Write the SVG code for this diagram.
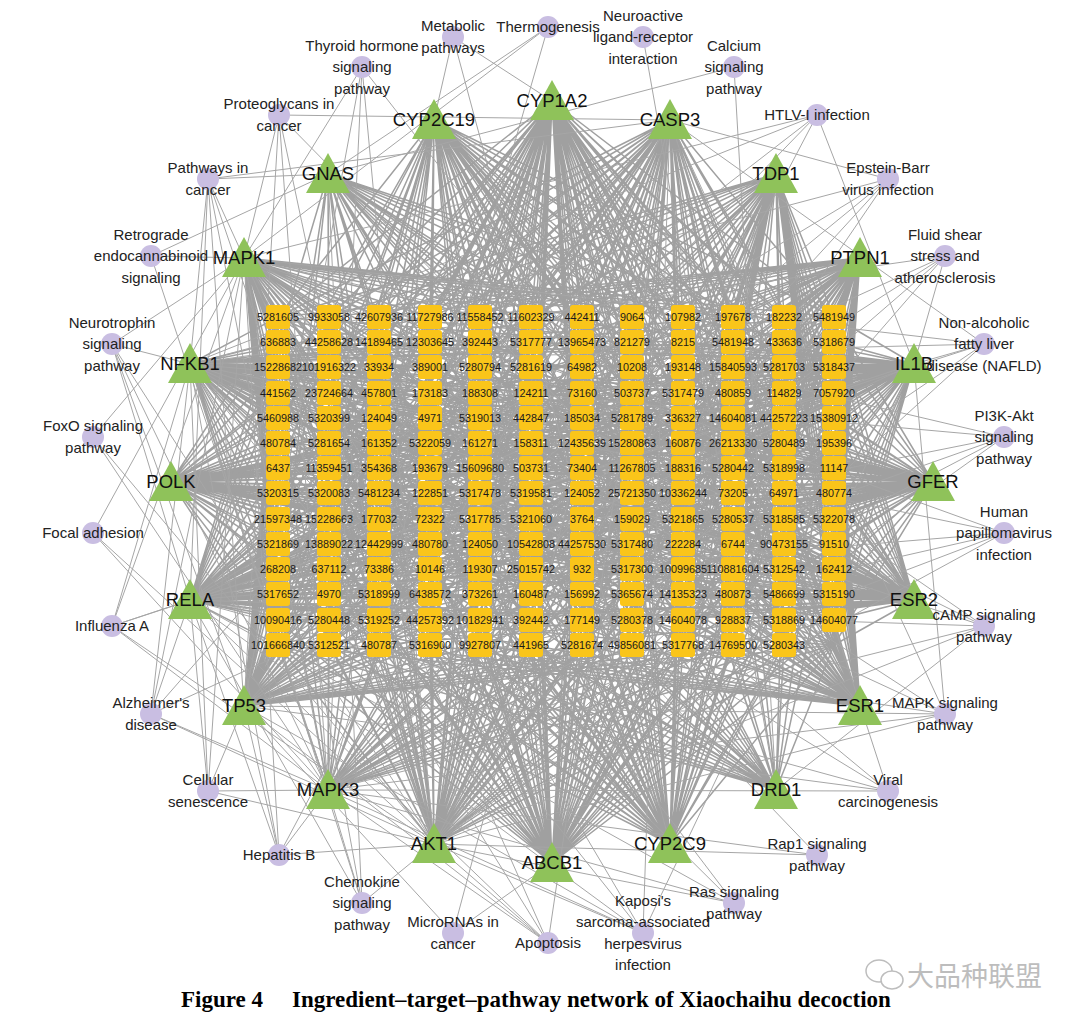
<svg xmlns="http://www.w3.org/2000/svg" xmlns:xlink="http://www.w3.org/1999/xlink" width="1080" height="1027" viewBox="0 0 1080 1027">
<defs>
<style>
.e{fill:none;stroke:#a0a0a0;stroke-width:1.5}
.pe{fill:none;stroke:#a6a6a6;stroke-width:1}
.cell{fill:#fac51a}
.cells text{font-family:"Liberation Sans",Arial,sans-serif;font-size:10.8px;text-anchor:middle;fill:#1a1a1a}
.tri{fill:#8fc25a}
.tg text{font-family:"Liberation Sans",Arial,sans-serif;font-size:18.5px;text-anchor:middle;fill:#111}
.pw circle{fill:#c9bee2}
.pw text{font-family:"Liberation Sans",Arial,sans-serif;font-size:15px;text-anchor:middle;fill:#222}
.cap{font-family:"Liberation Serif","Times New Roman",serif;font-size:23px;font-weight:bold;fill:#000}
.wm{font-family:"Noto Sans CJK SC",sans-serif;font-size:27px;fill:#bdbdbd}
</style>
<rect id="cell" class="cell" x="-12" y="-12" width="24" height="24" rx="3"/>
<path id="tri" class="tri" d="M0-21 22 19-22 19Z"/>
</defs>
<rect width="1080" height="1027" fill="#fff"/>
<g id="connectors">
<path id="e-CYP1A2" class="e" d="M552 101 278 317M552 101 329 317M552 101 379 317M552 101 430 317M552 101 480 317M552 101 531 317M552 101 582 317M552 101 632 317M552 101 683 317M552 101 733 317M552 101 784 317M552 101 834 317M552 101 278 418M552 101 329 418M552 101 379 418M552 101 430 418M552 101 480 418M552 101 531 418M552 101 582 418M552 101 632 418M552 101 683 418M552 101 733 418M552 101 784 418M552 101 834 418M552 101 278 544M552 101 329 544M552 101 379 544M552 101 430 544M552 101 480 544M552 101 531 544M552 101 582 544M552 101 632 544M552 101 683 544M552 101 733 544M552 101 784 544M552 101 834 544M552 101 278 645M552 101 329 645M552 101 379 645M552 101 430 645M552 101 480 645M552 101 531 645M552 101 582 645M552 101 632 645M552 101 683 645M552 101 733 645M552 101 784 645M552 101 834 645M552 101 278 367M552 101 329 367M552 101 379 367M552 101 430 367M552 101 480 367M552 101 531 367M552 101 582 367M552 101 632 367M552 101 683 367M552 101 733 367M552 101 784 367M552 101 834 367M552 101 278 493M552 101 329 493M552 101 379 493M552 101 430 493M552 101 480 493M552 101 531 493M552 101 582 493M552 101 632 493M552 101 683 493M552 101 733 493M552 101 784 493M552 101 834 493M552 101 278 594M552 101 329 594M552 101 379 594M552 101 430 594M552 101 480 594M552 101 531 594M552 101 582 594M552 101 632 594M552 101 683 594M552 101 733 594M552 101 784 594M552 101 834 594"/>
<path id="e-CYP2C19" class="e" d="M434 120 278 317M434 120 329 317M434 120 379 317M434 120 430 317M434 120 480 317M434 120 531 317M434 120 582 317M434 120 632 317M434 120 683 317M434 120 733 317M434 120 784 317M434 120 834 317M434 120 278 468M434 120 329 468M434 120 379 468M434 120 430 468M434 120 480 468M434 120 531 468M434 120 582 468M434 120 632 468M434 120 683 468M434 120 733 468M434 120 784 468M434 120 834 468M434 120 278 645M434 120 329 645M434 120 379 645M434 120 430 645M434 120 480 645M434 120 531 645M434 120 582 645M434 120 632 645M434 120 683 645M434 120 733 645M434 120 784 645M434 120 834 645M434 120 278 393M434 120 329 393M434 120 379 393M434 120 430 393M434 120 480 393M434 120 531 393M434 120 582 393M434 120 632 393M434 120 683 393M434 120 733 393M434 120 784 393M434 120 834 393M434 120 278 544M434 120 329 544M434 120 379 544M434 120 430 544M434 120 480 544M434 120 531 544M434 120 582 544M434 120 632 544M434 120 683 544M434 120 733 544M434 120 784 544M434 120 834 544"/>
<path id="e-CASP3" class="e" d="M670 120 278 317M670 120 329 317M670 120 379 317M670 120 430 317M670 120 480 317M670 120 531 317M670 120 582 317M670 120 632 317M670 120 683 317M670 120 733 317M670 120 784 317M670 120 834 317M670 120 278 493M670 120 329 493M670 120 379 493M670 120 430 493M670 120 480 493M670 120 531 493M670 120 582 493M670 120 632 493M670 120 683 493M670 120 733 493M670 120 784 493M670 120 834 493M670 120 278 645M670 120 329 645M670 120 379 645M670 120 430 645M670 120 480 645M670 120 531 645M670 120 582 645M670 120 632 645M670 120 683 645M670 120 733 645M670 120 784 645M670 120 834 645M670 120 278 393M670 120 329 393M670 120 379 393M670 120 430 393M670 120 480 393M670 120 531 393M670 120 582 393M670 120 632 393M670 120 683 393M670 120 733 393M670 120 784 393M670 120 834 393M670 120 278 569M670 120 329 569M670 120 379 569M670 120 430 569M670 120 480 569M670 120 531 569M670 120 582 569M670 120 632 569M670 120 683 569M670 120 733 569M670 120 784 569M670 120 834 569"/>
<path id="e-TDP1" class="e" d="M776 174 278 317M776 174 329 317M776 174 379 317M776 174 430 317M776 174 480 317M776 174 531 317M776 174 582 317M776 174 632 317M776 174 683 317M776 174 733 317M776 174 784 317M776 174 834 317M776 174 278 645M776 174 329 645M776 174 379 645M776 174 430 645M776 174 480 645M776 174 531 645M776 174 582 645M776 174 632 645M776 174 683 645M776 174 733 645M776 174 784 645M776 174 834 645M776 174 834 342M776 174 834 367M776 174 834 393M776 174 834 418M776 174 834 443M776 174 834 468M776 174 834 493M776 174 834 519M776 174 834 544M776 174 834 569M776 174 834 594M776 174 834 620M776 174 278 468M776 174 329 468M776 174 379 468M776 174 430 468M776 174 480 468M776 174 531 468M776 174 582 468M776 174 632 468M776 174 683 468M776 174 733 468M776 174 784 468M776 174 683 342M776 174 683 367M776 174 683 393M776 174 683 418M776 174 683 443M776 174 683 493M776 174 683 519M776 174 683 544M776 174 683 569M776 174 683 594M776 174 683 620"/>
<path id="e-GNAS" class="e" d="M328 174 278 342M328 174 329 342M328 174 379 342M328 174 430 342M328 174 480 342M328 174 531 342M328 174 582 342M328 174 632 342M328 174 683 342M328 174 733 342M328 174 784 342M328 174 834 342M328 174 278 620M328 174 379 620M328 174 480 620M328 174 582 620M328 174 683 620M328 174 784 620M328 174 278 493M328 174 329 493M328 174 379 493M328 174 430 493M328 174 480 493M328 174 531 493M328 174 582 493M328 174 632 493M328 174 683 493M328 174 733 493M328 174 784 493M328 174 834 493"/>
<path id="e-MAPK1" class="e" d="M244 258 278 317M244 258 278 342M244 258 278 367M244 258 278 393M244 258 278 418M244 258 278 443M244 258 278 468M244 258 278 493M244 258 278 519M244 258 278 544M244 258 278 569M244 258 278 594M244 258 278 620M244 258 278 645M244 258 329 317M244 258 379 317M244 258 430 317M244 258 480 317M244 258 531 317M244 258 582 317M244 258 632 317M244 258 683 317M244 258 733 317M244 258 784 317M244 258 834 317M244 258 329 645M244 258 379 645M244 258 430 645M244 258 480 645M244 258 531 645M244 258 582 645M244 258 632 645M244 258 683 645M244 258 733 645M244 258 784 645M244 258 834 645M244 258 329 468M244 258 430 468M244 258 480 468M244 258 531 468M244 258 582 468M244 258 632 468M244 258 683 468M244 258 733 468M244 258 784 468M244 258 834 468M244 258 379 342M244 258 379 367M244 258 379 393M244 258 379 418M244 258 379 443M244 258 379 468M244 258 379 493M244 258 379 519M244 258 379 544M244 258 379 569M244 258 379 594M244 258 379 620"/>
<path id="e-PTPN1" class="e" d="M860 258 834 317M860 258 834 342M860 258 834 367M860 258 834 393M860 258 834 418M860 258 834 443M860 258 834 468M860 258 834 493M860 258 834 519M860 258 834 544M860 258 834 569M860 258 834 594M860 258 834 620M860 258 834 645M860 258 278 317M860 258 329 317M860 258 379 317M860 258 430 317M860 258 480 317M860 258 531 317M860 258 582 317M860 258 632 317M860 258 683 317M860 258 733 317M860 258 784 317M860 258 278 645M860 258 329 645M860 258 379 645M860 258 430 645M860 258 480 645M860 258 531 645M860 258 582 645M860 258 632 645M860 258 683 645M860 258 733 645M860 258 784 645M860 258 278 468M860 258 329 468M860 258 379 468M860 258 430 468M860 258 480 468M860 258 531 468M860 258 582 468M860 258 632 468M860 258 683 468M860 258 784 468M860 258 733 342M860 258 733 367M860 258 733 393M860 258 733 418M860 258 733 443M860 258 733 468M860 258 733 493M860 258 733 519M860 258 733 544M860 258 733 569M860 258 733 594M860 258 733 620"/>
<path id="e-NFKB1" class="e" d="M190 364 278 317M190 364 278 342M190 364 278 367M190 364 278 393M190 364 278 418M190 364 278 443M190 364 278 468M190 364 278 493M190 364 278 519M190 364 278 544M190 364 278 569M190 364 278 594M190 364 278 620M190 364 278 645M190 364 582 317M190 364 582 342M190 364 582 367M190 364 582 393M190 364 582 418M190 364 582 443M190 364 582 468M190 364 582 493M190 364 582 519M190 364 582 544M190 364 582 569M190 364 582 594M190 364 582 620M190 364 582 645M190 364 834 317M190 364 834 342M190 364 834 367M190 364 834 393M190 364 834 418M190 364 834 443M190 364 834 468M190 364 834 493M190 364 834 519M190 364 834 544M190 364 834 569M190 364 834 594M190 364 834 620M190 364 834 645M190 364 430 317M190 364 430 342M190 364 430 367M190 364 430 393M190 364 430 418M190 364 430 443M190 364 430 468M190 364 430 493M190 364 430 519M190 364 430 544M190 364 430 569M190 364 430 594M190 364 430 620M190 364 430 645M190 364 733 317M190 364 733 342M190 364 733 367M190 364 733 393M190 364 733 418M190 364 733 443M190 364 733 468M190 364 733 493M190 364 733 519M190 364 733 544M190 364 733 569M190 364 733 594M190 364 733 620M190 364 733 645"/>
<path id="e-IL1B" class="e" d="M914 364 278 317M914 364 278 342M914 364 278 367M914 364 278 393M914 364 278 418M914 364 278 443M914 364 278 468M914 364 278 493M914 364 278 519M914 364 278 544M914 364 278 569M914 364 278 594M914 364 278 620M914 364 278 645M914 364 531 317M914 364 531 342M914 364 531 367M914 364 531 393M914 364 531 418M914 364 531 443M914 364 531 468M914 364 531 493M914 364 531 519M914 364 531 544M914 364 531 569M914 364 531 594M914 364 531 620M914 364 531 645M914 364 834 317M914 364 834 342M914 364 834 367M914 364 834 393M914 364 834 418M914 364 834 443M914 364 834 468M914 364 834 493M914 364 834 519M914 364 834 544M914 364 834 569M914 364 834 594M914 364 834 620M914 364 834 645M914 364 379 317M914 364 379 342M914 364 379 367M914 364 379 393M914 364 379 418M914 364 379 443M914 364 379 468M914 364 379 493M914 364 379 519M914 364 379 544M914 364 379 569M914 364 379 594M914 364 379 620M914 364 379 645M914 364 683 317M914 364 683 342M914 364 683 367M914 364 683 393M914 364 683 418M914 364 683 443M914 364 683 468M914 364 683 493M914 364 683 519M914 364 683 544M914 364 683 569M914 364 683 594M914 364 683 620M914 364 683 645"/>
<path id="e-POLK" class="e" d="M171 482 278 317M171 482 278 342M171 482 278 367M171 482 278 393M171 482 278 418M171 482 278 443M171 482 278 468M171 482 278 493M171 482 278 519M171 482 278 544M171 482 278 569M171 482 278 594M171 482 278 620M171 482 278 645M171 482 632 317M171 482 632 342M171 482 632 367M171 482 632 393M171 482 632 418M171 482 632 443M171 482 632 468M171 482 632 493M171 482 632 519M171 482 632 544M171 482 632 569M171 482 632 594M171 482 632 620M171 482 632 645M171 482 834 317M171 482 834 342M171 482 834 367M171 482 834 393M171 482 834 418M171 482 834 443M171 482 834 468M171 482 834 493M171 482 834 519M171 482 834 544M171 482 834 569M171 482 834 594M171 482 834 620M171 482 834 645M171 482 379 317M171 482 379 342M171 482 379 367M171 482 379 393M171 482 379 418M171 482 379 443M171 482 379 468M171 482 379 493M171 482 379 519M171 482 379 544M171 482 379 569M171 482 379 594M171 482 379 620M171 482 379 645M171 482 733 317M171 482 733 342M171 482 733 367M171 482 733 393M171 482 733 418M171 482 733 443M171 482 733 468M171 482 733 493M171 482 733 519M171 482 733 544M171 482 733 569M171 482 733 594M171 482 733 620M171 482 733 645"/>
<path id="e-GFER" class="e" d="M933 482 278 317M933 482 278 342M933 482 278 367M933 482 278 393M933 482 278 418M933 482 278 443M933 482 278 468M933 482 278 493M933 482 278 519M933 482 278 544M933 482 278 569M933 482 278 594M933 482 278 620M933 482 278 645M933 482 480 317M933 482 480 342M933 482 480 367M933 482 480 393M933 482 480 418M933 482 480 443M933 482 480 468M933 482 480 493M933 482 480 519M933 482 480 544M933 482 480 569M933 482 480 594M933 482 480 620M933 482 480 645M933 482 834 317M933 482 834 342M933 482 834 367M933 482 834 393M933 482 834 418M933 482 834 443M933 482 834 468M933 482 834 493M933 482 834 519M933 482 834 544M933 482 834 569M933 482 834 594M933 482 834 620M933 482 834 645M933 482 329 317M933 482 329 342M933 482 329 367M933 482 329 393M933 482 329 418M933 482 329 443M933 482 329 468M933 482 329 493M933 482 329 519M933 482 329 544M933 482 329 569M933 482 329 594M933 482 329 620M933 482 329 645M933 482 683 317M933 482 683 342M933 482 683 367M933 482 683 393M933 482 683 418M933 482 683 443M933 482 683 468M933 482 683 493M933 482 683 519M933 482 683 544M933 482 683 569M933 482 683 594M933 482 683 620M933 482 683 645"/>
<path id="e-RELA" class="e" d="M190 600 278 317M190 600 278 342M190 600 278 367M190 600 278 393M190 600 278 418M190 600 278 443M190 600 278 468M190 600 278 493M190 600 278 519M190 600 278 544M190 600 278 569M190 600 278 594M190 600 278 620M190 600 278 645M190 600 531 317M190 600 531 342M190 600 531 367M190 600 531 393M190 600 531 418M190 600 531 443M190 600 531 468M190 600 531 493M190 600 531 519M190 600 531 544M190 600 531 569M190 600 531 594M190 600 531 620M190 600 531 645M190 600 834 317M190 600 834 342M190 600 834 367M190 600 834 393M190 600 834 418M190 600 834 443M190 600 834 468M190 600 834 493M190 600 834 519M190 600 834 544M190 600 834 569M190 600 834 594M190 600 834 620M190 600 834 645M190 600 430 317M190 600 430 342M190 600 430 367M190 600 430 393M190 600 430 418M190 600 430 443M190 600 430 468M190 600 430 493M190 600 430 519M190 600 430 544M190 600 430 569M190 600 430 594M190 600 430 620M190 600 430 645M190 600 683 317M190 600 683 342M190 600 683 367M190 600 683 393M190 600 683 418M190 600 683 443M190 600 683 468M190 600 683 493M190 600 683 519M190 600 683 544M190 600 683 569M190 600 683 594M190 600 683 620M190 600 683 645"/>
<path id="e-ESR2" class="e" d="M914 600 278 317M914 600 278 342M914 600 278 367M914 600 278 393M914 600 278 418M914 600 278 443M914 600 278 468M914 600 278 493M914 600 278 519M914 600 278 544M914 600 278 569M914 600 278 594M914 600 278 620M914 600 278 645M914 600 582 317M914 600 582 342M914 600 582 367M914 600 582 393M914 600 582 418M914 600 582 443M914 600 582 468M914 600 582 493M914 600 582 519M914 600 582 544M914 600 582 569M914 600 582 594M914 600 582 620M914 600 582 645M914 600 834 317M914 600 834 342M914 600 834 367M914 600 834 393M914 600 834 418M914 600 834 443M914 600 834 468M914 600 834 493M914 600 834 519M914 600 834 544M914 600 834 569M914 600 834 594M914 600 834 620M914 600 834 645M914 600 379 317M914 600 379 342M914 600 379 367M914 600 379 393M914 600 379 418M914 600 379 443M914 600 379 468M914 600 379 493M914 600 379 519M914 600 379 544M914 600 379 569M914 600 379 594M914 600 379 620M914 600 379 645M914 600 733 317M914 600 733 342M914 600 733 367M914 600 733 393M914 600 733 418M914 600 733 443M914 600 733 468M914 600 733 493M914 600 733 519M914 600 733 544M914 600 733 569M914 600 733 594M914 600 733 620M914 600 733 645"/>
<path id="e-TP53" class="e" d="M244 706 278 317M244 706 278 342M244 706 278 367M244 706 278 393M244 706 278 418M244 706 278 443M244 706 278 468M244 706 278 493M244 706 278 519M244 706 278 544M244 706 278 569M244 706 278 594M244 706 278 620M244 706 278 645M244 706 329 645M244 706 379 645M244 706 430 645M244 706 480 645M244 706 531 645M244 706 582 645M244 706 632 645M244 706 683 645M244 706 733 645M244 706 784 645M244 706 834 645M244 706 329 317M244 706 379 317M244 706 430 317M244 706 480 317M244 706 531 317M244 706 582 317M244 706 632 317M244 706 683 317M244 706 733 317M244 706 784 317M244 706 834 317M244 706 329 493M244 706 430 493M244 706 480 493M244 706 531 493M244 706 582 493M244 706 632 493M244 706 683 493M244 706 733 493M244 706 784 493M244 706 834 493M244 706 379 342M244 706 379 367M244 706 379 393M244 706 379 418M244 706 379 443M244 706 379 468M244 706 379 493M244 706 379 519M244 706 379 544M244 706 379 569M244 706 379 594M244 706 379 620"/>
<path id="e-ESR1" class="e" d="M860 706 834 317M860 706 834 342M860 706 834 367M860 706 834 393M860 706 834 418M860 706 834 443M860 706 834 468M860 706 834 493M860 706 834 519M860 706 834 544M860 706 834 569M860 706 834 594M860 706 834 620M860 706 834 645M860 706 278 645M860 706 329 645M860 706 379 645M860 706 430 645M860 706 480 645M860 706 531 645M860 706 582 645M860 706 632 645M860 706 683 645M860 706 733 645M860 706 784 645M860 706 278 317M860 706 329 317M860 706 379 317M860 706 430 317M860 706 480 317M860 706 531 317M860 706 582 317M860 706 632 317M860 706 683 317M860 706 733 317M860 706 784 317M860 706 278 493M860 706 329 493M860 706 379 493M860 706 430 493M860 706 480 493M860 706 531 493M860 706 582 493M860 706 632 493M860 706 683 493M860 706 784 493M860 706 733 342M860 706 733 367M860 706 733 393M860 706 733 418M860 706 733 443M860 706 733 468M860 706 733 493M860 706 733 519M860 706 733 544M860 706 733 569M860 706 733 594M860 706 733 620"/>
<path id="e-MAPK3" class="e" d="M328 790 278 645M328 790 329 645M328 790 379 645M328 790 430 645M328 790 480 645M328 790 531 645M328 790 582 645M328 790 632 645M328 790 683 645M328 790 733 645M328 790 784 645M328 790 834 645M328 790 278 367M328 790 379 367M328 790 480 367M328 790 582 367M328 790 683 367M328 790 784 367M328 790 278 519M328 790 329 519M328 790 379 519M328 790 430 519M328 790 480 519M328 790 531 519M328 790 582 519M328 790 632 519M328 790 683 519M328 790 733 519M328 790 784 519M328 790 834 519"/>
<path id="e-DRD1" class="e" d="M776 790 278 645M776 790 329 645M776 790 379 645M776 790 430 645M776 790 480 645M776 790 531 645M776 790 582 645M776 790 632 645M776 790 683 645M776 790 733 645M776 790 784 645M776 790 834 645M776 790 329 367M776 790 430 367M776 790 531 367M776 790 632 367M776 790 733 367M776 790 834 367M776 790 278 519M776 790 329 519M776 790 379 519M776 790 430 519M776 790 480 519M776 790 531 519M776 790 582 519M776 790 632 519M776 790 683 519M776 790 733 519M776 790 784 519M776 790 834 519"/>
<path id="e-AKT1" class="e" d="M434 844 278 645M434 844 329 645M434 844 379 645M434 844 430 645M434 844 480 645M434 844 531 645M434 844 582 645M434 844 632 645M434 844 683 645M434 844 733 645M434 844 784 645M434 844 834 645M434 844 278 443M434 844 329 443M434 844 379 443M434 844 430 443M434 844 480 443M434 844 531 443M434 844 582 443M434 844 632 443M434 844 683 443M434 844 733 443M434 844 784 443M434 844 834 443M434 844 278 317M434 844 329 317M434 844 379 317M434 844 430 317M434 844 480 317M434 844 531 317M434 844 582 317M434 844 632 317M434 844 683 317M434 844 733 317M434 844 784 317M434 844 834 317M434 844 278 544M434 844 329 544M434 844 379 544M434 844 430 544M434 844 480 544M434 844 531 544M434 844 582 544M434 844 632 544M434 844 683 544M434 844 733 544M434 844 784 544M434 844 834 544M434 844 278 367M434 844 329 367M434 844 379 367M434 844 430 367M434 844 480 367M434 844 531 367M434 844 582 367M434 844 632 367M434 844 683 367M434 844 733 367M434 844 784 367M434 844 834 367"/>
<path id="e-ABCB1" class="e" d="M552 863 278 645M552 863 329 645M552 863 379 645M552 863 430 645M552 863 480 645M552 863 531 645M552 863 582 645M552 863 632 645M552 863 683 645M552 863 733 645M552 863 784 645M552 863 834 645M552 863 278 544M552 863 329 544M552 863 379 544M552 863 430 544M552 863 480 544M552 863 531 544M552 863 582 544M552 863 632 544M552 863 683 544M552 863 733 544M552 863 784 544M552 863 834 544M552 863 278 418M552 863 329 418M552 863 379 418M552 863 430 418M552 863 480 418M552 863 531 418M552 863 582 418M552 863 632 418M552 863 683 418M552 863 733 418M552 863 784 418M552 863 834 418M552 863 278 317M552 863 329 317M552 863 379 317M552 863 430 317M552 863 480 317M552 863 531 317M552 863 582 317M552 863 632 317M552 863 683 317M552 863 733 317M552 863 784 317M552 863 834 317M552 863 278 620M552 863 329 620M552 863 379 620M552 863 430 620M552 863 480 620M552 863 531 620M552 863 582 620M552 863 632 620M552 863 683 620M552 863 733 620M552 863 784 620M552 863 834 620M552 863 278 468M552 863 329 468M552 863 379 468M552 863 430 468M552 863 480 468M552 863 531 468M552 863 582 468M552 863 632 468M552 863 683 468M552 863 733 468M552 863 784 468M552 863 834 468"/>
<path id="e-CYP2C9" class="e" d="M670 844 278 645M670 844 329 645M670 844 379 645M670 844 430 645M670 844 480 645M670 844 531 645M670 844 582 645M670 844 632 645M670 844 683 645M670 844 733 645M670 844 784 645M670 844 834 645M670 844 278 468M670 844 329 468M670 844 379 468M670 844 430 468M670 844 480 468M670 844 531 468M670 844 582 468M670 844 632 468M670 844 683 468M670 844 733 468M670 844 784 468M670 844 834 468M670 844 278 317M670 844 329 317M670 844 379 317M670 844 430 317M670 844 480 317M670 844 531 317M670 844 582 317M670 844 632 317M670 844 683 317M670 844 733 317M670 844 784 317M670 844 834 317M670 844 278 569M670 844 329 569M670 844 379 569M670 844 430 569M670 844 480 569M670 844 531 569M670 844 582 569M670 844 632 569M670 844 683 569M670 844 733 569M670 844 784 569M670 844 834 569M670 844 278 393M670 844 329 393M670 844 379 393M670 844 430 393M670 844 480 393M670 844 531 393M670 844 582 393M670 844 632 393M670 844 683 393M670 844 733 393M670 844 784 393M670 844 834 393"/>
<path class="pe" d="M548 27 328 174M548 27 244 258M548 27 328 790"/>
<path class="pe" d="M643 37 776 790"/>
<path class="pe" d="M734 67 328 174M734 67 776 790"/>
<path class="pe" d="M817 115 434 844M817 115 190 364M817 115 190 600M817 115 244 706M817 115 914 364M817 115 244 258"/>
<path class="pe" d="M888 179 190 364M888 179 190 600M888 179 244 706M888 179 434 844M888 179 670 120M888 179 328 790"/>
<path class="pe" d="M945 256 190 364M945 256 190 600M945 256 434 844M945 256 914 364M945 256 244 706M945 256 328 790"/>
<path class="pe" d="M984 344 670 120M984 344 914 364M984 344 190 364M984 344 190 600M984 344 434 844M984 344 244 258M984 344 328 790"/>
<path class="pe" d="M1004 437 434 844M1004 437 190 600M1004 437 190 364M1004 437 244 706M1004 437 244 258M1004 437 328 790"/>
<path class="pe" d="M1004 533 434 844M1004 533 190 600M1004 533 190 364M1004 533 244 706M1004 533 244 258M1004 533 328 790"/>
<path class="pe" d="M984 626 328 174M984 626 776 790M984 626 434 844M984 626 190 600M984 626 190 364M984 626 244 258M984 626 328 790"/>
<path class="pe" d="M945 714 914 364M945 714 670 120M945 714 190 600M945 714 190 364M945 714 244 706M945 714 244 258M945 714 328 790M945 714 434 844"/>
<path class="pe" d="M888 791 670 120M888 791 244 706M888 791 190 600M888 791 190 364M888 791 244 258M888 791 328 790"/>
<path class="pe" d="M817 855 434 844M817 855 244 258M817 855 328 790"/>
<path class="pe" d="M734 903 434 844M734 903 244 258M734 903 328 790M734 903 190 600M734 903 190 364"/>
<path class="pe" d="M643 933 670 120M643 933 914 364M643 933 244 258M643 933 328 790M643 933 190 364M643 933 190 600M643 933 244 706M643 933 434 844"/>
<path class="pe" d="M548 943 670 120M548 943 434 844M548 943 244 706M548 943 190 364M548 943 190 600M548 943 244 258M548 943 328 790"/>
<path class="pe" d="M453 933 244 706M453 933 552 863M453 933 670 120"/>
<path class="pe" d="M362 903 434 844M362 903 190 364M362 903 190 600M362 903 244 258M362 903 328 790M362 903 328 174"/>
<path class="pe" d="M279 855 670 120M279 855 434 844M279 855 190 364M279 855 190 600M279 855 244 706M279 855 244 258M279 855 328 790"/>
<path class="pe" d="M208 791 244 706M208 791 434 844M208 791 190 600M208 791 190 364M208 791 244 258M208 791 328 790"/>
<path class="pe" d="M151 714 670 120M151 714 914 364M151 714 190 364M151 714 190 600M151 714 244 258M151 714 328 790M151 714 434 844"/>
<path class="pe" d="M112 626 190 364M112 626 190 600M112 626 914 364M112 626 434 844M112 626 244 258M112 626 328 790"/>
<path class="pe" d="M93 533 434 844M93 533 244 258M93 533 328 790"/>
<path class="pe" d="M93 437 434 844M93 437 244 258M93 437 328 790"/>
<path class="pe" d="M112 344 434 844M112 344 244 706M112 344 190 364M112 344 190 600M112 344 244 258M112 344 328 790"/>
<path class="pe" d="M151 256 328 174M151 256 244 258M151 256 328 790"/>
<path class="pe" d="M208 179 328 174M208 179 434 844M208 179 190 364M208 179 190 600M208 179 244 706M208 179 244 258M208 179 328 790M208 179 670 120"/>
<path class="pe" d="M279 115 434 844M279 115 860 706M279 115 244 258M279 115 328 790M279 115 670 120M279 115 244 706"/>
<path class="pe" d="M362 67 434 844M362 67 860 706M362 67 244 258M362 67 328 790M362 67 244 706"/>
<path class="pe" d="M453 37 552 101M453 37 434 120M453 37 670 844"/>
</g>
<g id="compounds" class="cells">
<g id="c5281605"><use xlink:href="#cell" x="278" y="317"/><text x="278" y="321">5281605</text></g>
<g id="c9933058"><use xlink:href="#cell" x="329" y="317"/><text x="329" y="321">9933058</text></g>
<g id="c42607936"><use xlink:href="#cell" x="379" y="317"/><text x="379" y="321">42607936</text></g>
<g id="c11727986"><use xlink:href="#cell" x="430" y="317"/><text x="430" y="321">11727986</text></g>
<g id="c11558452"><use xlink:href="#cell" x="480" y="317"/><text x="480" y="321">11558452</text></g>
<g id="c11602329"><use xlink:href="#cell" x="531" y="317"/><text x="531" y="321">11602329</text></g>
<g id="c442411"><use xlink:href="#cell" x="582" y="317"/><text x="582" y="321">442411</text></g>
<g id="c9064"><use xlink:href="#cell" x="632" y="317"/><text x="632" y="321">9064</text></g>
<g id="c107982"><use xlink:href="#cell" x="683" y="317"/><text x="683" y="321">107982</text></g>
<g id="c197678"><use xlink:href="#cell" x="733" y="317"/><text x="733" y="321">197678</text></g>
<g id="c182232"><use xlink:href="#cell" x="784" y="317"/><text x="784" y="321">182232</text></g>
<g id="c5481949"><use xlink:href="#cell" x="834" y="317"/><text x="834" y="321">5481949</text></g>
<g id="c636883"><use xlink:href="#cell" x="278" y="342"/><text x="278" y="346">636883</text></g>
<g id="c44258628"><use xlink:href="#cell" x="329" y="342"/><text x="329" y="346">44258628</text></g>
<g id="c14189465"><use xlink:href="#cell" x="379" y="342"/><text x="379" y="346">14189465</text></g>
<g id="c12303645"><use xlink:href="#cell" x="430" y="342"/><text x="430" y="346">12303645</text></g>
<g id="c392443"><use xlink:href="#cell" x="480" y="342"/><text x="480" y="346">392443</text></g>
<g id="c5317777"><use xlink:href="#cell" x="531" y="342"/><text x="531" y="346">5317777</text></g>
<g id="c13965473"><use xlink:href="#cell" x="582" y="342"/><text x="582" y="346">13965473</text></g>
<g id="c821279"><use xlink:href="#cell" x="632" y="342"/><text x="632" y="346">821279</text></g>
<g id="c8215"><use xlink:href="#cell" x="683" y="342"/><text x="683" y="346">8215</text></g>
<g id="c5481948"><use xlink:href="#cell" x="733" y="342"/><text x="733" y="346">5481948</text></g>
<g id="c433636"><use xlink:href="#cell" x="784" y="342"/><text x="784" y="346">433636</text></g>
<g id="c5318679"><use xlink:href="#cell" x="834" y="342"/><text x="834" y="346">5318679</text></g>
<g id="c15228682"><use xlink:href="#cell" x="278" y="367"/><text x="278" y="371">15228682</text></g>
<g id="c101916322"><use xlink:href="#cell" x="329" y="367"/><text x="329" y="371">101916322</text></g>
<g id="c33934"><use xlink:href="#cell" x="379" y="367"/><text x="379" y="371">33934</text></g>
<g id="c389001"><use xlink:href="#cell" x="430" y="367"/><text x="430" y="371">389001</text></g>
<g id="c5280794"><use xlink:href="#cell" x="480" y="367"/><text x="480" y="371">5280794</text></g>
<g id="c5281619"><use xlink:href="#cell" x="531" y="367"/><text x="531" y="371">5281619</text></g>
<g id="c64982"><use xlink:href="#cell" x="582" y="367"/><text x="582" y="371">64982</text></g>
<g id="c10208"><use xlink:href="#cell" x="632" y="367"/><text x="632" y="371">10208</text></g>
<g id="c193148"><use xlink:href="#cell" x="683" y="367"/><text x="683" y="371">193148</text></g>
<g id="c15840593"><use xlink:href="#cell" x="733" y="367"/><text x="733" y="371">15840593</text></g>
<g id="c5281703"><use xlink:href="#cell" x="784" y="367"/><text x="784" y="371">5281703</text></g>
<g id="c5318437"><use xlink:href="#cell" x="834" y="367"/><text x="834" y="371">5318437</text></g>
<g id="c441562"><use xlink:href="#cell" x="278" y="393"/><text x="278" y="397">441562</text></g>
<g id="c23724664"><use xlink:href="#cell" x="329" y="393"/><text x="329" y="397">23724664</text></g>
<g id="c457801"><use xlink:href="#cell" x="379" y="393"/><text x="379" y="397">457801</text></g>
<g id="c173183"><use xlink:href="#cell" x="430" y="393"/><text x="430" y="397">173183</text></g>
<g id="c188308"><use xlink:href="#cell" x="480" y="393"/><text x="480" y="397">188308</text></g>
<g id="c124211"><use xlink:href="#cell" x="531" y="393"/><text x="531" y="397">124211</text></g>
<g id="c73160"><use xlink:href="#cell" x="582" y="393"/><text x="582" y="397">73160</text></g>
<g id="c503737"><use xlink:href="#cell" x="632" y="393"/><text x="632" y="397">503737</text></g>
<g id="c5317479"><use xlink:href="#cell" x="683" y="393"/><text x="683" y="397">5317479</text></g>
<g id="c480859"><use xlink:href="#cell" x="733" y="393"/><text x="733" y="397">480859</text></g>
<g id="c114829"><use xlink:href="#cell" x="784" y="393"/><text x="784" y="397">114829</text></g>
<g id="c7057920"><use xlink:href="#cell" x="834" y="393"/><text x="834" y="397">7057920</text></g>
<g id="c5460988"><use xlink:href="#cell" x="278" y="418"/><text x="278" y="422">5460988</text></g>
<g id="c5320399"><use xlink:href="#cell" x="329" y="418"/><text x="329" y="422">5320399</text></g>
<g id="c124049"><use xlink:href="#cell" x="379" y="418"/><text x="379" y="422">124049</text></g>
<g id="c4971"><use xlink:href="#cell" x="430" y="418"/><text x="430" y="422">4971</text></g>
<g id="c5319013"><use xlink:href="#cell" x="480" y="418"/><text x="480" y="422">5319013</text></g>
<g id="c442847"><use xlink:href="#cell" x="531" y="418"/><text x="531" y="422">442847</text></g>
<g id="c185034"><use xlink:href="#cell" x="582" y="418"/><text x="582" y="422">185034</text></g>
<g id="c5281789"><use xlink:href="#cell" x="632" y="418"/><text x="632" y="422">5281789</text></g>
<g id="c336327"><use xlink:href="#cell" x="683" y="418"/><text x="683" y="422">336327</text></g>
<g id="c14604081"><use xlink:href="#cell" x="733" y="418"/><text x="733" y="422">14604081</text></g>
<g id="c44257223"><use xlink:href="#cell" x="784" y="418"/><text x="784" y="422">44257223</text></g>
<g id="c15380912"><use xlink:href="#cell" x="834" y="418"/><text x="834" y="422">15380912</text></g>
<g id="c480784"><use xlink:href="#cell" x="278" y="443"/><text x="278" y="447">480784</text></g>
<g id="c5281654"><use xlink:href="#cell" x="329" y="443"/><text x="329" y="447">5281654</text></g>
<g id="c161352"><use xlink:href="#cell" x="379" y="443"/><text x="379" y="447">161352</text></g>
<g id="c5322059"><use xlink:href="#cell" x="430" y="443"/><text x="430" y="447">5322059</text></g>
<g id="c161271"><use xlink:href="#cell" x="480" y="443"/><text x="480" y="447">161271</text></g>
<g id="c158311"><use xlink:href="#cell" x="531" y="443"/><text x="531" y="447">158311</text></g>
<g id="c12435639"><use xlink:href="#cell" x="582" y="443"/><text x="582" y="447">12435639</text></g>
<g id="c15280863"><use xlink:href="#cell" x="632" y="443"/><text x="632" y="447">15280863</text></g>
<g id="c160876"><use xlink:href="#cell" x="683" y="443"/><text x="683" y="447">160876</text></g>
<g id="c26213330"><use xlink:href="#cell" x="733" y="443"/><text x="733" y="447">26213330</text></g>
<g id="c5280489"><use xlink:href="#cell" x="784" y="443"/><text x="784" y="447">5280489</text></g>
<g id="c195396"><use xlink:href="#cell" x="834" y="443"/><text x="834" y="447">195396</text></g>
<g id="c6437"><use xlink:href="#cell" x="278" y="468"/><text x="278" y="472">6437</text></g>
<g id="c11359451"><use xlink:href="#cell" x="329" y="468"/><text x="329" y="472">11359451</text></g>
<g id="c354368"><use xlink:href="#cell" x="379" y="468"/><text x="379" y="472">354368</text></g>
<g id="c193679"><use xlink:href="#cell" x="430" y="468"/><text x="430" y="472">193679</text></g>
<g id="c15609680"><use xlink:href="#cell" x="480" y="468"/><text x="480" y="472">15609680</text></g>
<g id="c503731"><use xlink:href="#cell" x="531" y="468"/><text x="531" y="472">503731</text></g>
<g id="c73404"><use xlink:href="#cell" x="582" y="468"/><text x="582" y="472">73404</text></g>
<g id="c11267805"><use xlink:href="#cell" x="632" y="468"/><text x="632" y="472">11267805</text></g>
<g id="c188316"><use xlink:href="#cell" x="683" y="468"/><text x="683" y="472">188316</text></g>
<g id="c5280442"><use xlink:href="#cell" x="733" y="468"/><text x="733" y="472">5280442</text></g>
<g id="c5318998"><use xlink:href="#cell" x="784" y="468"/><text x="784" y="472">5318998</text></g>
<g id="c11147"><use xlink:href="#cell" x="834" y="468"/><text x="834" y="472">11147</text></g>
<g id="c5320315"><use xlink:href="#cell" x="278" y="493"/><text x="278" y="497">5320315</text></g>
<g id="c5320083"><use xlink:href="#cell" x="329" y="493"/><text x="329" y="497">5320083</text></g>
<g id="c5481234"><use xlink:href="#cell" x="379" y="493"/><text x="379" y="497">5481234</text></g>
<g id="c122851"><use xlink:href="#cell" x="430" y="493"/><text x="430" y="497">122851</text></g>
<g id="c5317478"><use xlink:href="#cell" x="480" y="493"/><text x="480" y="497">5317478</text></g>
<g id="c5319581"><use xlink:href="#cell" x="531" y="493"/><text x="531" y="497">5319581</text></g>
<g id="c124052"><use xlink:href="#cell" x="582" y="493"/><text x="582" y="497">124052</text></g>
<g id="c25721350"><use xlink:href="#cell" x="632" y="493"/><text x="632" y="497">25721350</text></g>
<g id="c10336244"><use xlink:href="#cell" x="683" y="493"/><text x="683" y="497">10336244</text></g>
<g id="c73205"><use xlink:href="#cell" x="733" y="493"/><text x="733" y="497">73205</text></g>
<g id="c64971"><use xlink:href="#cell" x="784" y="493"/><text x="784" y="497">64971</text></g>
<g id="c480774"><use xlink:href="#cell" x="834" y="493"/><text x="834" y="497">480774</text></g>
<g id="c21597348"><use xlink:href="#cell" x="278" y="519"/><text x="278" y="523">21597348</text></g>
<g id="c15228663"><use xlink:href="#cell" x="329" y="519"/><text x="329" y="523">15228663</text></g>
<g id="c177032"><use xlink:href="#cell" x="379" y="519"/><text x="379" y="523">177032</text></g>
<g id="c72322"><use xlink:href="#cell" x="430" y="519"/><text x="430" y="523">72322</text></g>
<g id="c5317785"><use xlink:href="#cell" x="480" y="519"/><text x="480" y="523">5317785</text></g>
<g id="c5321060"><use xlink:href="#cell" x="531" y="519"/><text x="531" y="523">5321060</text></g>
<g id="c3764"><use xlink:href="#cell" x="582" y="519"/><text x="582" y="523">3764</text></g>
<g id="c159029"><use xlink:href="#cell" x="632" y="519"/><text x="632" y="523">159029</text></g>
<g id="c5321865"><use xlink:href="#cell" x="683" y="519"/><text x="683" y="523">5321865</text></g>
<g id="c5280537"><use xlink:href="#cell" x="733" y="519"/><text x="733" y="523">5280537</text></g>
<g id="c5318585"><use xlink:href="#cell" x="784" y="519"/><text x="784" y="523">5318585</text></g>
<g id="c5322078"><use xlink:href="#cell" x="834" y="519"/><text x="834" y="523">5322078</text></g>
<g id="c5321869"><use xlink:href="#cell" x="278" y="544"/><text x="278" y="548">5321869</text></g>
<g id="c13889022"><use xlink:href="#cell" x="329" y="544"/><text x="329" y="548">13889022</text></g>
<g id="c12442999"><use xlink:href="#cell" x="379" y="544"/><text x="379" y="548">12442999</text></g>
<g id="c480780"><use xlink:href="#cell" x="430" y="544"/><text x="430" y="548">480780</text></g>
<g id="c124050"><use xlink:href="#cell" x="480" y="544"/><text x="480" y="548">124050</text></g>
<g id="c10542808"><use xlink:href="#cell" x="531" y="544"/><text x="531" y="548">10542808</text></g>
<g id="c44257530"><use xlink:href="#cell" x="582" y="544"/><text x="582" y="548">44257530</text></g>
<g id="c5317480"><use xlink:href="#cell" x="632" y="544"/><text x="632" y="548">5317480</text></g>
<g id="c222284"><use xlink:href="#cell" x="683" y="544"/><text x="683" y="548">222284</text></g>
<g id="c6744"><use xlink:href="#cell" x="733" y="544"/><text x="733" y="548">6744</text></g>
<g id="c90473155"><use xlink:href="#cell" x="784" y="544"/><text x="784" y="548">90473155</text></g>
<g id="c91510"><use xlink:href="#cell" x="834" y="544"/><text x="834" y="548">91510</text></g>
<g id="c268208"><use xlink:href="#cell" x="278" y="569"/><text x="278" y="573">268208</text></g>
<g id="c637112"><use xlink:href="#cell" x="329" y="569"/><text x="329" y="573">637112</text></g>
<g id="c73386"><use xlink:href="#cell" x="379" y="569"/><text x="379" y="573">73386</text></g>
<g id="c10146"><use xlink:href="#cell" x="430" y="569"/><text x="430" y="573">10146</text></g>
<g id="c119307"><use xlink:href="#cell" x="480" y="569"/><text x="480" y="573">119307</text></g>
<g id="c25015742"><use xlink:href="#cell" x="531" y="569"/><text x="531" y="573">25015742</text></g>
<g id="c932"><use xlink:href="#cell" x="582" y="569"/><text x="582" y="573">932</text></g>
<g id="c5317300"><use xlink:href="#cell" x="632" y="569"/><text x="632" y="573">5317300</text></g>
<g id="c10099685"><use xlink:href="#cell" x="683" y="569"/><text x="683" y="573">10099685</text></g>
<g id="c110881604"><use xlink:href="#cell" x="733" y="569"/><text x="733" y="573">110881604</text></g>
<g id="c5312542"><use xlink:href="#cell" x="784" y="569"/><text x="784" y="573">5312542</text></g>
<g id="c162412"><use xlink:href="#cell" x="834" y="569"/><text x="834" y="573">162412</text></g>
<g id="c5317652"><use xlink:href="#cell" x="278" y="594"/><text x="278" y="598">5317652</text></g>
<g id="c4970"><use xlink:href="#cell" x="329" y="594"/><text x="329" y="598">4970</text></g>
<g id="c5318999"><use xlink:href="#cell" x="379" y="594"/><text x="379" y="598">5318999</text></g>
<g id="c6438572"><use xlink:href="#cell" x="430" y="594"/><text x="430" y="598">6438572</text></g>
<g id="c373261"><use xlink:href="#cell" x="480" y="594"/><text x="480" y="598">373261</text></g>
<g id="c160487"><use xlink:href="#cell" x="531" y="594"/><text x="531" y="598">160487</text></g>
<g id="c156992"><use xlink:href="#cell" x="582" y="594"/><text x="582" y="598">156992</text></g>
<g id="c5365674"><use xlink:href="#cell" x="632" y="594"/><text x="632" y="598">5365674</text></g>
<g id="c14135323"><use xlink:href="#cell" x="683" y="594"/><text x="683" y="598">14135323</text></g>
<g id="c480873"><use xlink:href="#cell" x="733" y="594"/><text x="733" y="598">480873</text></g>
<g id="c5486699"><use xlink:href="#cell" x="784" y="594"/><text x="784" y="598">5486699</text></g>
<g id="c5315190"><use xlink:href="#cell" x="834" y="594"/><text x="834" y="598">5315190</text></g>
<g id="c10090416"><use xlink:href="#cell" x="278" y="620"/><text x="278" y="624">10090416</text></g>
<g id="c5280448"><use xlink:href="#cell" x="329" y="620"/><text x="329" y="624">5280448</text></g>
<g id="c5319252"><use xlink:href="#cell" x="379" y="620"/><text x="379" y="624">5319252</text></g>
<g id="c44257392"><use xlink:href="#cell" x="430" y="620"/><text x="430" y="624">44257392</text></g>
<g id="c10182941"><use xlink:href="#cell" x="480" y="620"/><text x="480" y="624">10182941</text></g>
<g id="c392442"><use xlink:href="#cell" x="531" y="620"/><text x="531" y="624">392442</text></g>
<g id="c177149"><use xlink:href="#cell" x="582" y="620"/><text x="582" y="624">177149</text></g>
<g id="c5280378"><use xlink:href="#cell" x="632" y="620"/><text x="632" y="624">5280378</text></g>
<g id="c14604078"><use xlink:href="#cell" x="683" y="620"/><text x="683" y="624">14604078</text></g>
<g id="c928837"><use xlink:href="#cell" x="733" y="620"/><text x="733" y="624">928837</text></g>
<g id="c5318869"><use xlink:href="#cell" x="784" y="620"/><text x="784" y="624">5318869</text></g>
<g id="c14604077"><use xlink:href="#cell" x="834" y="620"/><text x="834" y="624">14604077</text></g>
<g id="c101666840"><use xlink:href="#cell" x="278" y="645"/><text x="278" y="649">101666840</text></g>
<g id="c5312521"><use xlink:href="#cell" x="329" y="645"/><text x="329" y="649">5312521</text></g>
<g id="c480787"><use xlink:href="#cell" x="379" y="645"/><text x="379" y="649">480787</text></g>
<g id="c5316900"><use xlink:href="#cell" x="430" y="645"/><text x="430" y="649">5316900</text></g>
<g id="c9927807"><use xlink:href="#cell" x="480" y="645"/><text x="480" y="649">9927807</text></g>
<g id="c441965"><use xlink:href="#cell" x="531" y="645"/><text x="531" y="649">441965</text></g>
<g id="c5281674"><use xlink:href="#cell" x="582" y="645"/><text x="582" y="649">5281674</text></g>
<g id="c49856081"><use xlink:href="#cell" x="632" y="645"/><text x="632" y="649">49856081</text></g>
<g id="c5317768"><use xlink:href="#cell" x="683" y="645"/><text x="683" y="649">5317768</text></g>
<g id="c14769500"><use xlink:href="#cell" x="733" y="645"/><text x="733" y="649">14769500</text></g>
<g id="c5280343"><use xlink:href="#cell" x="784" y="645"/><text x="784" y="649">5280343</text></g>
</g>
<g id="targets" class="tg">
<g id="t-CYP1A2"><use xlink:href="#tri" x="552" y="101"/><text x="552" y="107">CYP1A2</text></g>
<g id="t-CASP3"><use xlink:href="#tri" x="670" y="120"/><text x="670" y="126">CASP3</text></g>
<g id="t-TDP1"><use xlink:href="#tri" x="776" y="174"/><text x="776" y="180">TDP1</text></g>
<g id="t-PTPN1"><use xlink:href="#tri" x="860" y="258"/><text x="860" y="264">PTPN1</text></g>
<g id="t-IL1B"><use xlink:href="#tri" x="914" y="364"/><text x="914" y="370">IL1B</text></g>
<g id="t-GFER"><use xlink:href="#tri" x="933" y="482"/><text x="933" y="488">GFER</text></g>
<g id="t-ESR2"><use xlink:href="#tri" x="914" y="600"/><text x="914" y="606">ESR2</text></g>
<g id="t-ESR1"><use xlink:href="#tri" x="860" y="706"/><text x="860" y="712">ESR1</text></g>
<g id="t-DRD1"><use xlink:href="#tri" x="776" y="790"/><text x="776" y="796">DRD1</text></g>
<g id="t-CYP2C9"><use xlink:href="#tri" x="670" y="844"/><text x="670" y="850">CYP2C9</text></g>
<g id="t-ABCB1"><use xlink:href="#tri" x="552" y="863"/><text x="552" y="869">ABCB1</text></g>
<g id="t-AKT1"><use xlink:href="#tri" x="434" y="844"/><text x="434" y="850">AKT1</text></g>
<g id="t-MAPK3"><use xlink:href="#tri" x="328" y="790"/><text x="328" y="796">MAPK3</text></g>
<g id="t-TP53"><use xlink:href="#tri" x="244" y="706"/><text x="244" y="712">TP53</text></g>
<g id="t-RELA"><use xlink:href="#tri" x="190" y="600"/><text x="190" y="606">RELA</text></g>
<g id="t-POLK"><use xlink:href="#tri" x="171" y="482"/><text x="171" y="488">POLK</text></g>
<g id="t-NFKB1"><use xlink:href="#tri" x="190" y="364"/><text x="190" y="370">NFKB1</text></g>
<g id="t-MAPK1"><use xlink:href="#tri" x="244" y="258"/><text x="244" y="264">MAPK1</text></g>
<g id="t-GNAS"><use xlink:href="#tri" x="328" y="174"/><text x="328" y="180">GNAS</text></g>
<g id="t-CYP2C19"><use xlink:href="#tri" x="434" y="120"/><text x="434" y="126">CYP2C19</text></g>
</g>
<g id="pathways" class="pw">
<g id="p-thermogenesis"><circle cx="548" cy="27" r="11"/><text x="548" y="32">Thermogenesis</text></g>
<g id="p-neuroactive"><circle cx="643" cy="37" r="11"/><text x="643" y="20.5">Neuroactive</text><text x="643" y="42">ligand-receptor</text><text x="643" y="63.5">interaction</text></g>
<g id="p-calcium"><circle cx="734" cy="67" r="11"/><text x="734" y="50.5">Calcium</text><text x="734" y="72">signaling</text><text x="734" y="93.5">pathway</text></g>
<g id="p-htlv"><circle cx="817" cy="115" r="11"/><text x="817" y="120">HTLV-I infection</text></g>
<g id="p-ebv"><circle cx="888" cy="179" r="11"/><text x="888" y="173.3">Epstein-Barr</text><text x="888" y="194.8">virus infection</text></g>
<g id="p-fluid"><circle cx="945" cy="256" r="11"/><text x="945" y="239.5">Fluid shear</text><text x="945" y="261">stress and</text><text x="945" y="282.5">atherosclerosis</text></g>
<g id="p-nafld"><circle cx="984" cy="344" r="11"/><text x="984" y="327.5">Non-alcoholic</text><text x="984" y="349">fatty liver</text><text x="984" y="370.5">disease (NAFLD)</text></g>
<g id="p-pi3k"><circle cx="1004" cy="437" r="11"/><text x="1004" y="420.5">PI3K-Akt</text><text x="1004" y="442">signaling</text><text x="1004" y="463.5">pathway</text></g>
<g id="p-hpv"><circle cx="1004" cy="533" r="11"/><text x="1004" y="516.5">Human</text><text x="1004" y="538">papillomavirus</text><text x="1004" y="559.5">infection</text></g>
<g id="p-camp"><circle cx="984" cy="626" r="11"/><text x="984" y="620.3">cAMP signaling</text><text x="984" y="641.8">pathway</text></g>
<g id="p-mapk"><circle cx="945" cy="714" r="11"/><text x="945" y="708.3">MAPK signaling</text><text x="945" y="729.8">pathway</text></g>
<g id="p-viral"><circle cx="888" cy="791" r="11"/><text x="888" y="785.3">Viral</text><text x="888" y="806.8">carcinogenesis</text></g>
<g id="p-rap1"><circle cx="817" cy="855" r="11"/><text x="817" y="849.3">Rap1 signaling</text><text x="817" y="870.8">pathway</text></g>
<g id="p-ras"><circle cx="734" cy="903" r="11"/><text x="734" y="897.3">Ras signaling</text><text x="734" y="918.8">pathway</text></g>
<g id="p-kaposi"><circle cx="643" cy="933" r="11"/><text x="643" y="905.8">Kaposi's</text><text x="643" y="927.3">sarcoma-associated</text><text x="643" y="948.8">herpesvirus</text><text x="643" y="970.3">infection</text></g>
<g id="p-apoptosis"><circle cx="548" cy="943" r="11"/><text x="548" y="948">Apoptosis</text></g>
<g id="p-microrna"><circle cx="453" cy="933" r="11"/><text x="453" y="927.3">MicroRNAs in</text><text x="453" y="948.8">cancer</text></g>
<g id="p-chemokine"><circle cx="362" cy="903" r="11"/><text x="362" y="886.5">Chemokine</text><text x="362" y="908">signaling</text><text x="362" y="929.5">pathway</text></g>
<g id="p-hepb"><circle cx="279" cy="855" r="11"/><text x="279" y="860">Hepatitis B</text></g>
<g id="p-senescence"><circle cx="208" cy="791" r="11"/><text x="208" y="785.3">Cellular</text><text x="208" y="806.8">senescence</text></g>
<g id="p-alzheimer"><circle cx="151" cy="714" r="11"/><text x="151" y="708.3">Alzheimer's</text><text x="151" y="729.8">disease</text></g>
<g id="p-influenza"><circle cx="112" cy="626" r="11"/><text x="112" y="631">Influenza A</text></g>
<g id="p-focal"><circle cx="93" cy="533" r="11"/><text x="93" y="538">Focal adhesion</text></g>
<g id="p-foxo"><circle cx="93" cy="437" r="11"/><text x="93" y="431.3">FoxO signaling</text><text x="93" y="452.8">pathway</text></g>
<g id="p-neurotrophin"><circle cx="112" cy="344" r="11"/><text x="112" y="327.5">Neurotrophin</text><text x="112" y="349">signaling</text><text x="112" y="370.5">pathway</text></g>
<g id="p-retrograde"><circle cx="151" cy="256" r="11"/><text x="151" y="239.5">Retrograde</text><text x="151" y="261">endocannabinoid</text><text x="151" y="282.5">signaling</text></g>
<g id="p-cancer"><circle cx="208" cy="179" r="11"/><text x="208" y="173.3">Pathways in</text><text x="208" y="194.8">cancer</text></g>
<g id="p-proteoglycans"><circle cx="279" cy="115" r="11"/><text x="279" y="109.3">Proteoglycans in</text><text x="279" y="130.8">cancer</text></g>
<g id="p-thyroid"><circle cx="362" cy="67" r="11"/><text x="362" y="50.5">Thyroid hormone</text><text x="362" y="72">signaling</text><text x="362" y="93.5">pathway</text></g>
<g id="p-metabolic"><circle cx="453" cy="37" r="11"/><text x="453" y="31.3">Metabolic</text><text x="453" y="52.8">pathways</text></g>
</g>
<g id="watermark">
<ellipse cx="879" cy="971" rx="13" ry="11" fill="none" stroke="#bdbdbd" stroke-width="1.5"/>
<ellipse cx="892" cy="980" rx="11" ry="9" fill="#fff" stroke="#bdbdbd" stroke-width="1.5"/>
<text class="wm" x="907" y="986">大品种联盟</text>
</g>
<g id="caption">
<text class="cap" x="181" y="1007">Figure 4</text>
<text class="cap" x="292" y="1007">Ingredient–target–pathway network of Xiaochaihu decoction</text>
</g>
</svg>
